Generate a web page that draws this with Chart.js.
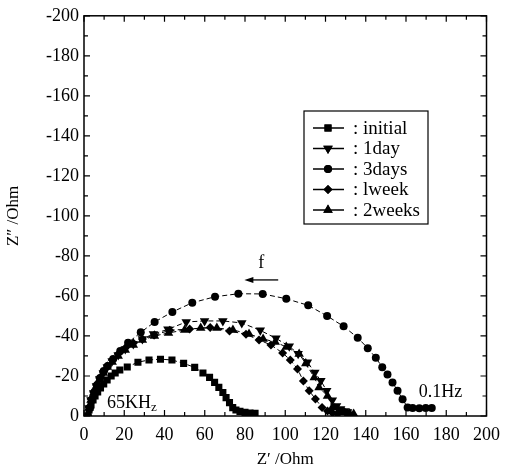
<!DOCTYPE html>
<html>
<head>
<meta charset="utf-8">
<script src="https://cdn.jsdelivr.net/npm/chart.js@4/dist/chart.umd.min.js"></script>
<style>
  html, body { margin: 0; padding: 0; background: #fff; }
  #wrap { width: 508px; height: 472px; }
</style>
</head>
<body>
<div id="wrap"><canvas id="chart" width="508" height="472"></canvas></div>
<script>
// Nyquist plot data (Z' and Z'' in Ohm)
const seriesNames = [': initial', ': 1day', ': 3days', ': lweek', ': 2weeks'];

const initialX = [1.5, 2.5, 3.5, 4.5, 5.5, 6.8, 8.2, 9.8, 11.5, 13.5, 15.5, 17.8, 21.5, 26.8, 32.3, 38, 43.7, 49.5, 55, 59.1, 62.4, 64.9, 67, 69, 70.6, 72.3, 73.9, 75.5, 77.5, 80, 82.5, 85];
const initialY = [0, -3, -5.5, -8, -10, -12, -14, -16, -18, -20, -21.5, -23, -24.5, -26.9, -28, -28.4, -28, -26.3, -24.3, -21.5, -19.3, -16.8, -14.3, -11.7, -9.2, -6.7, -4.2, -3, -2.3, -1.8, -1.5, -1.3];

const day1X = [1.5, 2.5, 3.5, 4.8, 6.2, 7.8, 9.6, 11.6, 14, 17, 20.5, 24.5, 29, 34.5, 41.7, 50.8, 59.9, 69, 78.4, 87.6, 95.4, 102, 106.4, 111, 114.7, 117.7, 120.6, 123.4, 125.5, 127.5, 129.5, 131];
const day1Y = [0, -4, -8, -11.5, -15, -18.5, -21.5, -24.5, -27.5, -30.5, -33.5, -36, -38.5, -41, -43.3, -47, -47.5, -47.5, -46.5, -42.8, -38.8, -34.8, -31.1, -26.9, -21.8, -17.6, -12.6, -7.9, -5, -3.5, -2.5, -2];

const days3X = [2, 3, 4, 5.2, 6.5, 8, 9.8, 11.8, 14.5, 18, 21.9, 28.2, 35.1, 43.9, 53.8, 65.1, 76.7, 88.8, 100.5, 111.4, 120.8, 129, 136, 141, 145, 148.2, 150.8, 153.3, 155.8, 158.3, 160.8, 163.3, 166.6, 169.8, 172.8];
const days3Y = [0, -4, -8, -12, -15.5, -19, -22.5, -25, -28.5, -32.5, -36.6, -41.8, -47, -52, -56.6, -59.6, -61.1, -61, -58.6, -55.3, -50, -44.8, -39.1, -33.9, -29.1, -24.4, -20.7, -16.8, -12.6, -8.4, -4.2, -4, -3.9, -4, -4];

const week1X = [1.5, 2.5, 3.5, 4.8, 6.2, 7.8, 9.6, 11.6, 14, 17, 20.5, 24.5, 29, 35, 42.6, 52.5, 62.7, 72.3, 80.5, 87, 92.9, 98.7, 102.5, 106.1, 109, 111.9, 115, 118.3, 121, 123.5, 126];
const week1Y = [0, -4.5, -8.5, -12, -15.5, -19, -22, -25, -28, -31, -34, -36.5, -38.5, -40.5, -42.8, -43.5, -44.2, -42.5, -40.8, -38, -35.5, -31.5, -28, -23.5, -17.5, -12.6, -8.5, -4.2, -2.5, -1.5, -1];

const weeks2X = [1.5, 2.5, 3.5, 4.8, 6.2, 7.8, 9.6, 11.6, 14, 17, 20.5, 24.5, 29, 35, 42, 50, 58, 66, 74, 82, 89, 95, 100.5, 106.9, 110.2, 114.4, 116.8, 121, 123.4, 126.5, 129.5, 132, 134];
const weeks2Y = [0, -4, -8, -11.5, -15, -18.5, -21.5, -24.5, -27, -30, -33, -35.5, -38, -40, -41.5, -43, -44, -44, -43, -41, -38.5, -37, -34.5, -31, -26.2, -19.3, -14.3, -10, -4.2, -2.5, -1.8, -1.2, -1];

const FONT = '"Liberation Serif", "DejaVu Serif", serif';

function pts(xs, ys) {
  return xs.map((x, i) => ({ x: x, y: ys[i] }));
}

function series(label, xs, ys, style, radius, rotation) {
  return {
    label: label,
    data: pts(xs, ys),
    showLine: true,
    borderColor: '#000',
    borderWidth: 1,
    borderDash: [5, 3],
    backgroundColor: '#000',
    pointBackgroundColor: '#000',
    pointBorderColor: '#000',
    pointBorderWidth: 0,
    pointStyle: style,
    pointRadius: radius,
    pointRotation: rotation || 0,
    pointHoverRadius: radius,
  };
}

// frame, inward ticks, legend box and the small notes on the plot
const framePlugin = {
  id: 'frame',
  afterDraw(chart) {
    const ctx = chart.ctx;
    const a = chart.chartArea;
    const xs = chart.scales.x;
    const ys = chart.scales.y;
    ctx.save();
    ctx.strokeStyle = '#000';
    ctx.lineWidth = 1.5;
    ctx.strokeRect(a.left, a.top, a.right - a.left, a.bottom - a.top);

    ctx.lineWidth = 1.2;
    ctx.beginPath();
    for (let v = 0; v <= 200; v += 10) {
      const len = v % 20 === 0 ? 6 : 4;
      const px = xs.getPixelForValue(v);
      ctx.moveTo(px, a.bottom); ctx.lineTo(px, a.bottom - len);
      ctx.moveTo(px, a.top); ctx.lineTo(px, a.top + len);
      const py = ys.getPixelForValue(-v);
      ctx.moveTo(a.left, py); ctx.lineTo(a.left + len, py);
      ctx.moveTo(a.right, py); ctx.lineTo(a.right - len, py);
    }
    ctx.stroke();

    // legend
    const lx = 304, ly = 111, lw = 124, lh = 113;
    ctx.lineWidth = 1.2;
    ctx.strokeRect(lx, ly, lw, lh);
    ctx.font = '19px ' + FONT;
    ctx.textBaseline = 'middle';
    ctx.fillStyle = '#000';
    chart.data.datasets.forEach((ds, i) => {
      const ry = ly + 17 + i * 20.5;
      ctx.setLineDash([]);
      ctx.lineWidth = 1.5;
      ctx.beginPath();
      ctx.moveTo(lx + 9, ry); ctx.lineTo(lx + 40, ry);
      ctx.stroke();
      Chart.helpers.drawPoint(ctx, {
        pointStyle: ds.pointStyle, radius: ds.pointRadius,
        rotation: ds.pointRotation, borderWidth: 0
      }, lx + 24, ry);
      ctx.fill();
      ctx.fillText(ds.label, lx + 49, ry + 1);
    });

    // notes
    ctx.textBaseline = 'alphabetic';
    ctx.font = '18px ' + FONT;
    const kx = xs.getPixelForValue(11.4), ky = ys.getPixelForValue(-4);
    ctx.fillText('65KH', kx, ky);
    const kw = ctx.measureText('65KH').width;
    ctx.font = '13px ' + FONT;
    ctx.fillText('z', kx + kw, ky + 3);
    ctx.font = '18px ' + FONT;
    ctx.fillText('0.1Hz', xs.getPixelForValue(166.3), ys.getPixelForValue(-9.3));
    ctx.textAlign = 'center';
    ctx.fillText('f', xs.getPixelForValue(88.1), ys.getPixelForValue(-74));

    const ax1 = xs.getPixelForValue(96.5), ax0 = xs.getPixelForValue(79.7), ay = ys.getPixelForValue(-68);
    ctx.lineWidth = 1.3;
    ctx.beginPath();
    ctx.moveTo(ax1, ay); ctx.lineTo(ax0 + 4, ay);
    ctx.stroke();
    ctx.beginPath();
    ctx.moveTo(ax0, ay); ctx.lineTo(ax0 + 9, ay - 3); ctx.lineTo(ax0 + 9, ay + 3);
    ctx.closePath();
    ctx.fill();
    ctx.restore();
  }
};

new Chart(document.getElementById('chart'), {
  type: 'scatter',
  data: {
    datasets: [
      series(seriesNames[0], initialX, initialY, 'rect', 5),
      series(seriesNames[1], day1X, day1Y, 'triangle', 5.5, 180),
      series(seriesNames[2], days3X, days3Y, 'circle', 4),
      series(seriesNames[3], week1X, week1Y, 'rectRot', 4.5),
      series(seriesNames[4], weeks2X, weeks2Y, 'triangle', 5.5),
    ]
  },
  options: {
    responsive: false,
    animation: false,
    layout: { padding: { top: 14, right: 21, left: 0, bottom: 0 } },
    plugins: { legend: { display: false }, tooltip: { enabled: false } },
    scales: {
      x: {
        type: 'linear',
        min: 0, max: 200,
        border: { display: false },
        grid: { display: false, drawTicks: false },
        ticks: { stepSize: 20, padding: 8, color: '#000', font: { family: FONT, size: 18 } },
        title: { display: true, text: 'Z′ /Ohm', color: '#000', padding: { top: 0, bottom: 2 }, font: { family: FONT, size: 17 } },
        afterFit(scale) { scale.height = 56; }
      },
      y: {
        type: 'linear',
        min: -200, max: 0,
        reverse: true,
        border: { display: false },
        grid: { display: false, drawTicks: false },
        ticks: { stepSize: 20, padding: 5, color: '#000', font: { family: FONT, size: 18 } },
        title: { display: true, text: 'Z″ /Ohm', color: '#000', padding: { top: 3, bottom: 0 }, font: { family: FONT, size: 17 } },
        afterFit(scale) { scale.width = 84; }
      }
    }
  },
  plugins: [framePlugin]
});
</script>
</body>
</html>
